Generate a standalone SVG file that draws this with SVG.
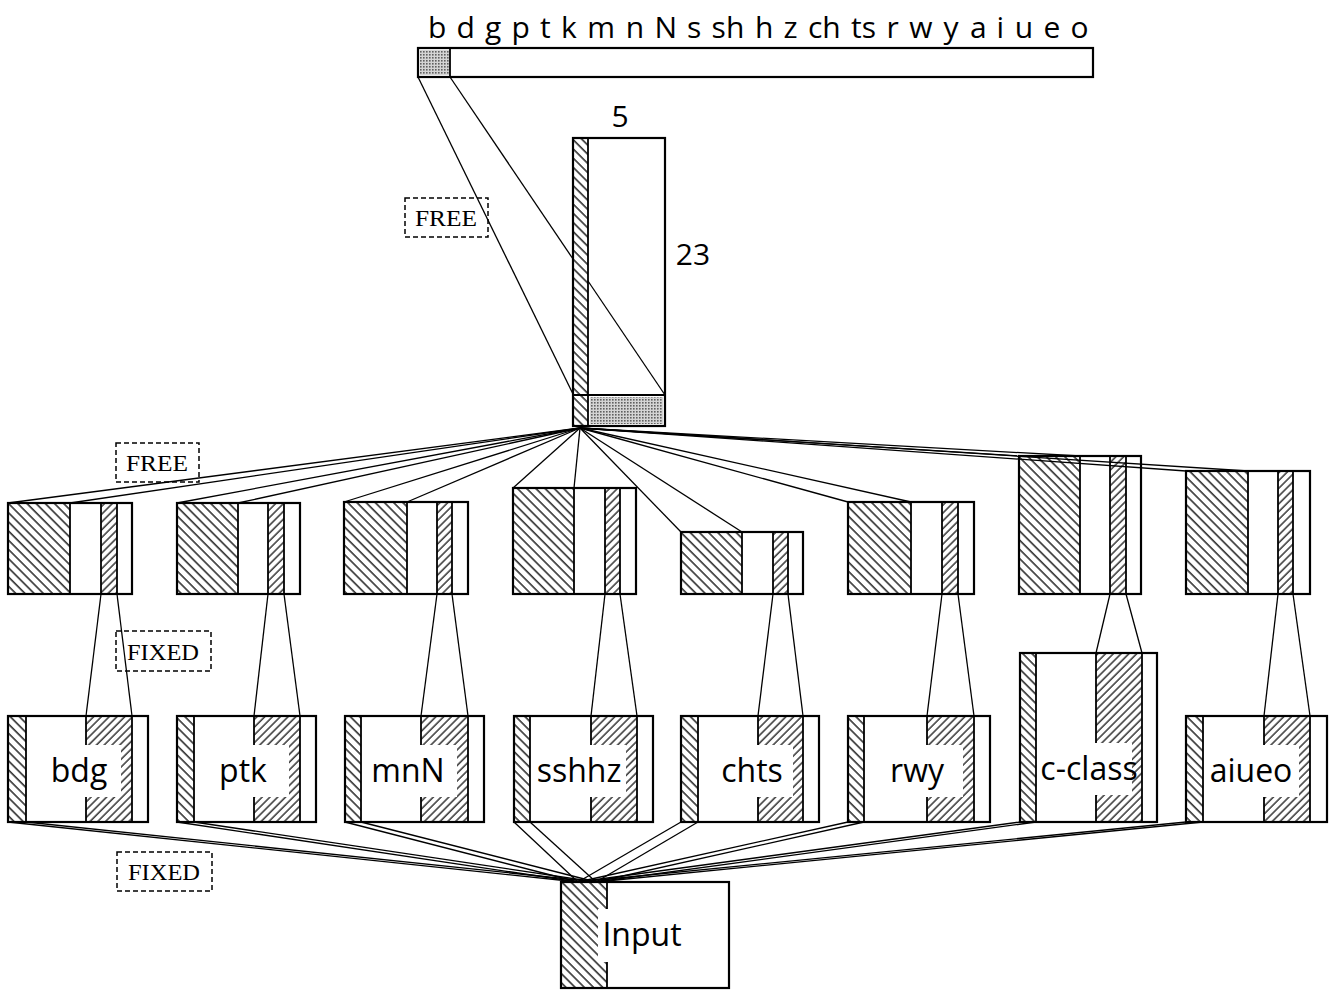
<svg xmlns="http://www.w3.org/2000/svg" width="1330" height="990" viewBox="0 0 1330 990">
<defs>
<pattern id="hb" width="6.5" height="6.5" patternUnits="userSpaceOnUse" patternTransform="rotate(-45)"><line x1="1" y1="0" x2="1" y2="6.5" stroke="#000" stroke-width="1.3"/></pattern>
<pattern id="hf" width="5.5" height="5.5" patternUnits="userSpaceOnUse" patternTransform="rotate(45)"><line x1="1" y1="0" x2="1" y2="5.5" stroke="#000" stroke-width="1.2"/></pattern>
<pattern id="dots" width="3" height="3" patternUnits="userSpaceOnUse"><rect width="3" height="3" fill="#d4d4d4"/><rect width="1.6" height="1.6" fill="#606060"/></pattern>
<style>
.o{fill:none;stroke:#000;stroke-width:2.2}
.w{fill:#fff;stroke:none}
.v{stroke:#000;stroke-width:1.8}
.c{stroke:#000;stroke-width:1.3;fill:none}
.lab{font-family:"Open Sans","Noto Sans",sans-serif;font-size:32px;fill:#000;text-anchor:middle}
.ph{font-family:"Open Sans","Noto Sans",sans-serif;font-size:30px;fill:#000}
.num{font-family:"Open Sans","Noto Sans",sans-serif;font-size:30px;fill:#000;text-anchor:middle}
.tag{font-family:"Liberation Serif","DejaVu Serif",serif;font-size:24px;fill:#000;text-anchor:middle}
.dash{fill:none;stroke:#000;stroke-width:1.5;stroke-dasharray:5 3}
</style>
</defs>
<rect width="1330" height="990" fill="#fff"/>

<g id="phonemes">
<text class="ph" y="38"><tspan x="428">b</tspan><tspan x="456.5">d</tspan><tspan x="485">g</tspan><tspan x="511.6">p</tspan><tspan x="540.1">t</tspan><tspan x="561">k</tspan><tspan x="587.2">m</tspan><tspan x="625.8">n</tspan><tspan x="654.5">N</tspan><tspan x="686.9">s</tspan><tspan x="711.6">sh</tspan><tspan x="754.9">h</tspan><tspan x="783.6">z</tspan><tspan x="808">ch</tspan><tspan x="851.1">ts</tspan><tspan x="886.6">r</tspan><tspan x="909.2">w</tspan><tspan x="943.6">y</tspan><tspan x="969.9">a</tspan><tspan x="996.6">i</tspan><tspan x="1014.7">u</tspan><tspan x="1043.4">e</tspan><tspan x="1070.4">o</tspan></text>
</g>

<g id="output-bar">
<rect x="418" y="48" width="675" height="29" class="w"/>
<rect x="420" y="50" width="29" height="25" fill="url(#dots)"/>
<line x1="450" y1="48" x2="450" y2="77" class="v"/>
<rect x="418" y="48" width="675" height="29" class="o"/>
</g>

<g id="hidden-layer">
<rect x="573" y="138" width="92" height="288" class="w"/>
<rect x="573" y="138" width="15" height="288" fill="url(#hb)"/>
<rect x="590" y="397" width="73" height="27" fill="url(#dots)"/>
<line x1="588" y1="138" x2="588" y2="426" class="v"/>
<line x1="573" y1="395" x2="665" y2="395" class="v"/>
<rect x="573" y="138" width="92" height="288" class="o"/>
<text class="num" x="620" y="127">5</text>
<text class="num" x="693" y="265">23</text>
</g>

<g id="free-1"><rect x="405" y="198" width="83" height="39" class="dash"/><text class="tag" x="446" y="226" textLength="62" lengthAdjust="spacingAndGlyphs">FREE</text></g>
<g id="free-2"><rect x="116" y="443" width="83" height="39" class="dash"/><text class="tag" x="157" y="471" textLength="62" lengthAdjust="spacingAndGlyphs">FREE</text></g>
<g id="fixed-1"><rect x="116" y="631" width="95" height="40" class="dash"/><text class="tag" x="163" y="660" textLength="72" lengthAdjust="spacingAndGlyphs">FIXED</text></g>
<g id="fixed-2"><rect x="117" y="852" width="95" height="39" class="dash"/><text class="tag" x="164" y="880" textLength="72" lengthAdjust="spacingAndGlyphs">FIXED</text></g>

<!-- middle row -->
<g id="mid-bdg"><rect x="8" y="503" width="124" height="91" class="w"/><rect x="8" y="503" width="62" height="91" fill="url(#hb)"/><rect x="101" y="503" width="16" height="91" fill="url(#hf)"/><line x1="70" y1="503" x2="70" y2="594" class="v"/><line x1="101" y1="503" x2="101" y2="594" class="v"/><line x1="117" y1="503" x2="117" y2="594" class="v"/><rect x="8" y="503" width="124" height="91" class="o"/></g>
<g id="mid-ptk"><rect x="177" y="503" width="123" height="91" class="w"/><rect x="177" y="503" width="61" height="91" fill="url(#hb)"/><rect x="268" y="503" width="16" height="91" fill="url(#hf)"/><line x1="238" y1="503" x2="238" y2="594" class="v"/><line x1="268" y1="503" x2="268" y2="594" class="v"/><line x1="284" y1="503" x2="284" y2="594" class="v"/><rect x="177" y="503" width="123" height="91" class="o"/></g>
<g id="mid-mnN"><rect x="344" y="502" width="124" height="92" class="w"/><rect x="344" y="502" width="63" height="92" fill="url(#hb)"/><rect x="437" y="502" width="15" height="92" fill="url(#hf)"/><line x1="407" y1="502" x2="407" y2="594" class="v"/><line x1="437" y1="502" x2="437" y2="594" class="v"/><line x1="452" y1="502" x2="452" y2="594" class="v"/><rect x="344" y="502" width="124" height="92" class="o"/></g>
<g id="mid-sshhz"><rect x="513" y="488" width="123" height="106" class="w"/><rect x="513" y="488" width="61" height="106" fill="url(#hb)"/><rect x="605" y="488" width="15" height="106" fill="url(#hf)"/><line x1="574" y1="488" x2="574" y2="594" class="v"/><line x1="605" y1="488" x2="605" y2="594" class="v"/><line x1="620" y1="488" x2="620" y2="594" class="v"/><rect x="513" y="488" width="123" height="106" class="o"/></g>
<g id="mid-chts"><rect x="681" y="532" width="122" height="62" class="w"/><rect x="681" y="532" width="61" height="62" fill="url(#hb)"/><rect x="773" y="532" width="15" height="62" fill="url(#hf)"/><line x1="742" y1="532" x2="742" y2="594" class="v"/><line x1="773" y1="532" x2="773" y2="594" class="v"/><line x1="788" y1="532" x2="788" y2="594" class="v"/><rect x="681" y="532" width="122" height="62" class="o"/></g>
<g id="mid-rwy"><rect x="848" y="502" width="126" height="92" class="w"/><rect x="848" y="502" width="63" height="92" fill="url(#hb)"/><rect x="942" y="502" width="16" height="92" fill="url(#hf)"/><line x1="911" y1="502" x2="911" y2="594" class="v"/><line x1="942" y1="502" x2="942" y2="594" class="v"/><line x1="958" y1="502" x2="958" y2="594" class="v"/><rect x="848" y="502" width="126" height="92" class="o"/></g>
<g id="mid-cclass"><rect x="1019" y="456" width="122" height="138" class="w"/><rect x="1019" y="456" width="61" height="138" fill="url(#hb)"/><rect x="1110" y="456" width="16" height="138" fill="url(#hf)"/><line x1="1080" y1="456" x2="1080" y2="594" class="v"/><line x1="1110" y1="456" x2="1110" y2="594" class="v"/><line x1="1126" y1="456" x2="1126" y2="594" class="v"/><rect x="1019" y="456" width="122" height="138" class="o"/></g>
<g id="mid-aiueo"><rect x="1186" y="471" width="124" height="123" class="w"/><rect x="1186" y="471" width="62" height="123" fill="url(#hb)"/><rect x="1278" y="471" width="15" height="123" fill="url(#hf)"/><line x1="1248" y1="471" x2="1248" y2="594" class="v"/><line x1="1278" y1="471" x2="1278" y2="594" class="v"/><line x1="1293" y1="471" x2="1293" y2="594" class="v"/><rect x="1186" y="471" width="124" height="123" class="o"/></g>

<!-- bottom row -->
<g id="bdg"><rect x="8" y="716" width="140" height="106" class="w"/><rect x="8" y="716" width="18" height="106" fill="url(#hb)"/><rect x="86" y="716" width="46" height="106" fill="url(#hf)"/><line x1="26" y1="716" x2="26" y2="822" class="v"/><line x1="86" y1="716" x2="86" y2="822" class="v"/><line x1="132" y1="716" x2="132" y2="822" class="v"/><rect x="30" y="745" width="91" height="52" class="w"/><text class="lab" x="79" y="782">bdg</text><rect x="8" y="716" width="140" height="106" class="o"/></g>
<g id="ptk"><rect x="177" y="716" width="139" height="106" class="w"/><rect x="177" y="716" width="17" height="106" fill="url(#hb)"/><rect x="254" y="716" width="46" height="106" fill="url(#hf)"/><line x1="194" y1="716" x2="194" y2="822" class="v"/><line x1="254" y1="716" x2="254" y2="822" class="v"/><line x1="300" y1="716" x2="300" y2="822" class="v"/><rect x="198" y="745" width="91" height="52" class="w"/><text class="lab" x="243" y="782">ptk</text><rect x="177" y="716" width="139" height="106" class="o"/></g>
<g id="mnN"><rect x="345" y="716" width="139" height="106" class="w"/><rect x="345" y="716" width="16" height="106" fill="url(#hb)"/><rect x="421" y="716" width="47" height="106" fill="url(#hf)"/><line x1="361" y1="716" x2="361" y2="822" class="v"/><line x1="421" y1="716" x2="421" y2="822" class="v"/><line x1="468" y1="716" x2="468" y2="822" class="v"/><rect x="365" y="745" width="92" height="52" class="w"/><text class="lab" x="408" y="782">mnN</text><rect x="345" y="716" width="139" height="106" class="o"/></g>
<g id="sshhz"><rect x="514" y="716" width="139" height="106" class="w"/><rect x="514" y="716" width="16" height="106" fill="url(#hb)"/><rect x="591" y="716" width="46" height="106" fill="url(#hf)"/><line x1="530" y1="716" x2="530" y2="822" class="v"/><line x1="591" y1="716" x2="591" y2="822" class="v"/><line x1="637" y1="716" x2="637" y2="822" class="v"/><rect x="534" y="745" width="92" height="52" class="w"/><text class="lab" x="579" y="782">sshhz</text><rect x="514" y="716" width="139" height="106" class="o"/></g>
<g id="chts"><rect x="681" y="716" width="138" height="106" class="w"/><rect x="681" y="716" width="17" height="106" fill="url(#hb)"/><rect x="758" y="716" width="45" height="106" fill="url(#hf)"/><line x1="698" y1="716" x2="698" y2="822" class="v"/><line x1="758" y1="716" x2="758" y2="822" class="v"/><line x1="803" y1="716" x2="803" y2="822" class="v"/><rect x="702" y="745" width="91" height="52" class="w"/><text class="lab" x="752" y="782">chts</text><rect x="681" y="716" width="138" height="106" class="o"/></g>
<g id="rwy"><rect x="848" y="716" width="142" height="106" class="w"/><rect x="848" y="716" width="16" height="106" fill="url(#hb)"/><rect x="927" y="716" width="47" height="106" fill="url(#hf)"/><line x1="864" y1="716" x2="864" y2="822" class="v"/><line x1="927" y1="716" x2="927" y2="822" class="v"/><line x1="974" y1="716" x2="974" y2="822" class="v"/><rect x="868" y="745" width="95" height="52" class="w"/><text class="lab" x="917" y="782">rwy</text><rect x="848" y="716" width="142" height="106" class="o"/></g>
<g id="c-class"><rect x="1020" y="653" width="137" height="169" class="w"/><rect x="1020" y="653" width="16" height="169" fill="url(#hb)"/><rect x="1096" y="653" width="46" height="169" fill="url(#hf)"/><line x1="1036" y1="653" x2="1036" y2="822" class="v"/><line x1="1096" y1="653" x2="1096" y2="822" class="v"/><line x1="1142" y1="653" x2="1142" y2="822" class="v"/><rect x="1040" y="743" width="92" height="52" class="w"/><text class="lab" x="1089" y="780">c-class</text><rect x="1020" y="653" width="137" height="169" class="o"/></g>
<g id="aiueo"><rect x="1186" y="716" width="141" height="106" class="w"/><rect x="1186" y="716" width="17" height="106" fill="url(#hb)"/><rect x="1264" y="716" width="46" height="106" fill="url(#hf)"/><line x1="1203" y1="716" x2="1203" y2="822" class="v"/><line x1="1264" y1="716" x2="1264" y2="822" class="v"/><line x1="1310" y1="716" x2="1310" y2="822" class="v"/><rect x="1207" y="745" width="92" height="52" class="w"/><text class="lab" x="1251" y="782">aiueo</text><rect x="1186" y="716" width="141" height="106" class="o"/></g>

<g id="input"><rect x="561" y="882" width="168" height="106" class="w"/><rect x="561" y="882" width="46" height="106" fill="url(#hb)"/><line x1="607" y1="882" x2="607" y2="988" class="v"/><rect x="598" y="909" width="100" height="53" class="w"/><text class="lab" x="642" y="946">Input</text><rect x="561" y="882" width="168" height="106" class="o"/></g>

<g id="connectors" class="c">
<line x1="418" y1="77" x2="573" y2="394"/>
<line x1="450" y1="77" x2="573" y2="259"/>
<line x1="588" y1="281" x2="665" y2="395"/>
<line x1="580" y1="428" x2="8" y2="503"/><line x1="580" y1="428" x2="70" y2="503"/>
<line x1="580" y1="428" x2="177" y2="503"/><line x1="580" y1="428" x2="238" y2="503"/>
<line x1="580" y1="428" x2="344" y2="502"/><line x1="580" y1="428" x2="407" y2="502"/>
<line x1="580" y1="428" x2="513" y2="488"/><line x1="580" y1="428" x2="574" y2="488"/>
<line x1="580" y1="428" x2="681" y2="532"/><line x1="580" y1="428" x2="742" y2="532"/>
<line x1="580" y1="428" x2="848" y2="502"/><line x1="580" y1="428" x2="911" y2="502"/>
<line x1="580" y1="428" x2="1019" y2="456"/><line x1="580" y1="428" x2="1080" y2="456"/>
<line x1="580" y1="428" x2="1186" y2="471"/><line x1="580" y1="428" x2="1248" y2="471"/>
<line x1="101" y1="594" x2="86" y2="716"/><line x1="117" y1="594" x2="132" y2="716"/>
<line x1="268" y1="594" x2="254" y2="716"/><line x1="284" y1="594" x2="300" y2="716"/>
<line x1="437" y1="594" x2="421" y2="716"/><line x1="452" y1="594" x2="468" y2="716"/>
<line x1="605" y1="594" x2="591" y2="716"/><line x1="620" y1="594" x2="637" y2="716"/>
<line x1="773" y1="594" x2="758" y2="716"/><line x1="788" y1="594" x2="803" y2="716"/>
<line x1="942" y1="594" x2="927" y2="716"/><line x1="958" y1="594" x2="974" y2="716"/>
<line x1="1110" y1="594" x2="1096" y2="653"/><line x1="1126" y1="594" x2="1142" y2="653"/>
<line x1="1278" y1="594" x2="1264" y2="716"/><line x1="1293" y1="594" x2="1310" y2="716"/>
<line x1="8" y1="822" x2="578" y2="882"/><line x1="26" y1="822" x2="596" y2="882"/>
<line x1="177" y1="822" x2="578" y2="882"/><line x1="194" y1="822" x2="596" y2="882"/>
<line x1="345" y1="822" x2="578" y2="882"/><line x1="361" y1="822" x2="596" y2="882"/>
<line x1="514" y1="822" x2="578" y2="882"/><line x1="530" y1="822" x2="596" y2="882"/>
<line x1="681" y1="822" x2="578" y2="882"/><line x1="698" y1="822" x2="596" y2="882"/>
<line x1="848" y1="822" x2="578" y2="882"/><line x1="864" y1="822" x2="596" y2="882"/>
<line x1="1020" y1="822" x2="578" y2="882"/><line x1="1036" y1="822" x2="596" y2="882"/>
<line x1="1186" y1="822" x2="578" y2="882"/><line x1="1203" y1="822" x2="596" y2="882"/>
</g>
</svg>
